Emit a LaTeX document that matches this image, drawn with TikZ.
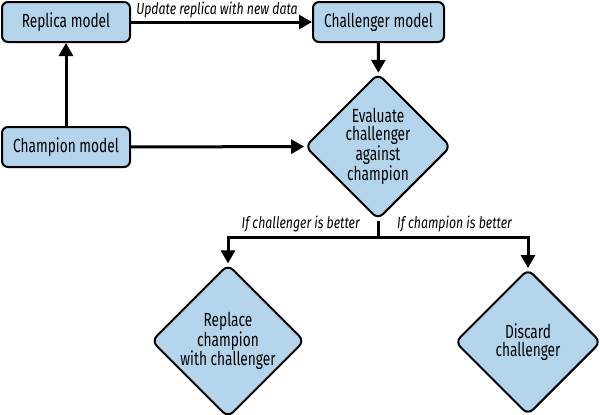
\documentclass[tikz,border=0pt]{standalone}
\usepackage{fontspec}
\setmainfont[FakeStretch=0.72]{Fira Sans}
\newfontfamily\labfont[FakeStretch=0.77]{Fira Sans}
\usetikzlibrary{shapes.geometric,arrows.meta}
\definecolor{boxblue}{RGB}{180,212,235}
\begin{document}
\begin{tikzpicture}[x=1pt,y=-1pt,
  box/.style={draw=black,line width=2pt,fill=boxblue,rounded corners=6pt,
    minimum width=128pt,minimum height=40pt,inner sep=0pt,font=\fontsize{19}{19}\selectfont},
  dia/.style={diamond,draw=black,line width=2pt,fill=boxblue,rounded corners=7pt,
    minimum width=146pt,minimum height=146pt,inner sep=0pt,align=center,
    font=\fontsize{19}{17.7}\selectfont},
  arr/.style={line width=3pt,-{Triangle[length=13pt,width=14pt]}},
  ln/.style={line width=3pt},
  lab/.style={font=\labfont\itshape\fontsize{16}{16}\selectfont,inner sep=0pt}]
\useasboundingbox (0,0) rectangle (600,415);
\node[box] (rep) at (66,22) {Replica model};
\node[box] (chm) at (66,147) {Champion model};
\node[box,minimum width=131pt] (chl) at (378.5,22) {Challenger model};
\node[dia] (eval) at (378,146.5) {Evaluate\\challenger\\against\\champion};
\node[dia] (repl) at (228,341) {Replace\\champion\\with challenger};
\node[dia] (disc) at (528,342) {Discard\\challenger};
\coordinate (split) at (378,237);
\coordinate (lft) at (228,237);
\coordinate (rgt) at (528,237);
\draw[arr] (rep) -- (chl);
\draw[arr] (chm) -- (rep);
\draw[arr] (chm) -- (eval);
\draw[arr] (chl) -- (eval);
\draw[ln] (eval.south) -- (split);
\draw[arr] (split) -- (lft) -- (repl.north);
\draw[arr] (split) -- (rgt) -- (disc.north);
\node[lab,anchor=base] (l0) at (217,14) {Update replica with new data};
\node[lab,anchor=base east] (l1) at (360,228) {If challenger is better};
\node[lab,anchor=base west] (l2) at (397,228) {If champion is better};
\end{tikzpicture}
\end{document}
